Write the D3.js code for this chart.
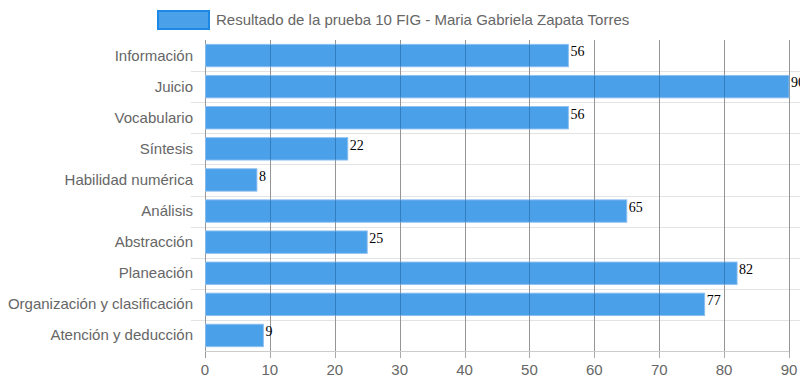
<!DOCTYPE html>
<html>
<head>
<meta charset="utf-8">
<script src="https://cdn.jsdelivr.net/npm/d3@7"></script>
<style>
  body { margin: 0; background: #fff; }
  svg { display: block; }
</style>
</head>
<body>
<svg id="chart" width="800" height="386"></svg>
<script>
var categories = ['Información', 'Juicio', 'Vocabulario', 'Síntesis', 'Habilidad numérica',
    'Análisis', 'Abstracción', 'Planeación', 'Organización y clasificación', 'Atención y deducción'];
var values = [56, 90, 56, 22, 8, 65, 25, 82, 77, 9];
var xTicks = [0, 10, 20, 30, 40, 50, 60, 70, 80, 90];
var seriesName = 'Resultado de la prueba 10 FIG - Maria Gabriela Zapata Torres';

var svg = d3.select('#chart');
var plotLeft = 205, plotRight = 789, plotTop = 40, plotBottom = 351;
var font = 'Liberation Sans, Arial, sans-serif';

var x = d3.scaleLinear().domain([0, 90]).range([plotLeft, plotRight]);
var y = d3.scaleBand().domain(categories).range([plotTop, plotBottom]).paddingInner(0).paddingOuter(0);

// horizontal grid (between categories)
var hLines = d3.range(1, categories.length).map(function (i) { return plotTop + i * y.step(); });
svg.append('g').selectAll('line')
    .data(hLines)
    .enter()
    .append('line')
    .attr('x1', plotLeft - 14).attr('x2', 800)
    .attr('y1', function (d) { return Math.round(d) + 0.5; })
    .attr('y2', function (d) { return Math.round(d) + 0.5; })
    .attr('stroke', '#e3e3e3');

// vertical grid
svg.append('g').selectAll('line')
    .data(xTicks)
    .enter()
    .append('line')
    .attr('x1', function (d) { return Math.round(x(d)) + 0.5; })
    .attr('x2', function (d) { return Math.round(x(d)) + 0.5; })
    .attr('y1', plotTop).attr('y2', plotBottom + 7)
    .attr('stroke', function (d) { return d === 0 ? '#999' : '#aaa'; });

// bottom axis line
svg.append('line')
    .attr('x1', plotLeft).attr('x2', plotRight)
    .attr('y1', plotBottom + 0.5).attr('y2', plotBottom + 0.5)
    .attr('stroke', '#ccc');

// bars
var barH = y.bandwidth() * 0.72;
function barTop(i) { return y(categories[i]) + (y.bandwidth() - barH) / 2; }
svg.append('g').selectAll('rect')
    .data(values)
    .enter()
    .append('rect')
    .attr('x', x(0) + 0.5)
    .attr('y', function (d, i) { return barTop(i); })
    .attr('width', function (d) { return x(d) - x(0) - 0.5; })
    .attr('height', barH)
    .attr('fill', 'rgba(30,136,229,0.8)')
    .attr('stroke', 'rgba(140,190,240,0.9)')
    .attr('stroke-width', 1);

// grid showing through the bars
svg.append('g').selectAll('line')
    .data(xTicks.slice(1))
    .enter()
    .append('line')
    .attr('x1', function (d) { return Math.round(x(d)) + 0.5; })
    .attr('x2', function (d) { return Math.round(x(d)) + 0.5; })
    .attr('y1', plotTop).attr('y2', plotBottom)
    .attr('stroke', 'rgba(0,0,0,0.12)');

// value labels
svg.append('g').selectAll('text')
    .data(values)
    .enter()
    .append('text')
    .attr('x', function (d) { return x(d) + 2; })
    .attr('y', function (d, i) { return barTop(i) + 12; })
    .attr('font-family', 'Liberation Serif, Times New Roman, serif')
    .attr('font-size', 14)
    .attr('fill', '#000')
    .text(function (d) { return d; });

// category labels
svg.append('g').selectAll('text')
    .data(categories)
    .enter()
    .append('text')
    .attr('x', 193)
    .attr('y', function (d) { return y(d) + y.bandwidth() / 2 + 5; })
    .attr('text-anchor', 'end')
    .attr('font-family', font)
    .attr('font-size', 15)
    .attr('fill', '#666')
    .text(function (d) { return d; });

// x tick labels
svg.append('g').selectAll('text')
    .data(xTicks)
    .enter()
    .append('text')
    .attr('x', function (d) { return x(d); })
    .attr('y', 375)
    .attr('text-anchor', 'middle')
    .attr('font-family', font)
    .attr('font-size', 15)
    .attr('fill', '#666')
    .text(function (d) { return d; });

// legend
svg.append('rect')
    .attr('x', 158).attr('y', 11).attr('width', 51).attr('height', 18)
    .attr('fill', 'rgba(30,136,229,0.8)')
    .attr('stroke', '#1e88e5').attr('stroke-width', 2);
svg.append('text')
    .attr('x', 216).attr('y', 25)
    .attr('font-family', font)
    .attr('font-size', 15)
    .attr('fill', '#666')
    .text(seriesName);
</script>
</body>
</html>
